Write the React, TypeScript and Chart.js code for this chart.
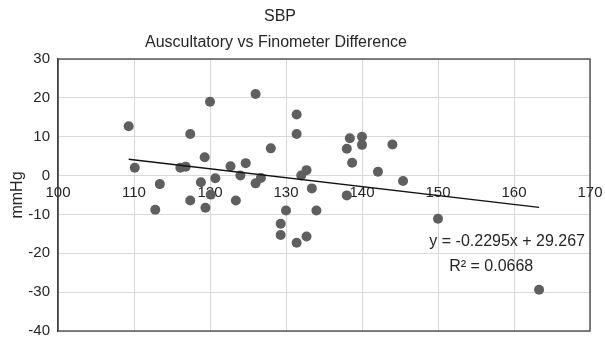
import React, { useEffect, useRef } from "react";
import { Chart, registerables } from "chart.js";

Chart.register(...registerables);

// Auscultatory SBP (x) vs difference (y), mmHg
const sbpX = [
  109.3, 110.1, 113.4, 112.8, 116.1, 116.8, 117.4, 117.4, 118.8, 119.3, 119.4,
  120.0, 120.1, 120.7, 122.7, 123.4, 124.0, 124.7, 126.0, 126.0, 126.7, 128.0,
  130.0, 129.3, 129.3, 131.4, 131.4, 131.4, 132.0, 132.7, 132.7, 133.4, 134.0,
  138.0, 138.4, 138.7, 138.0, 140.0, 140.0, 142.1, 144.0, 145.4, 150.0, 163.3,
];
const diffY = [
  12.7, 2.0, -2.2, -8.8, 2.0, 2.3, 10.7, -6.4, -1.7, 4.7, -8.3,
  19.0, -4.9, -0.7, 2.4, -6.4, 0.0, 3.2, 21.0, -2.0, -0.6, 7.0,
  -9.0, -12.4, -15.3, 15.7, 10.7, -17.3, 0.0, 1.4, -15.7, -3.3, -9.0,
  6.9, 9.6, 3.3, -5.1, 10.0, 7.9, 1.0, 8.0, -1.4, -11.1, -29.4,
];
const trendX = [109.3, 163.3];
const trendY = [4.2, -8.2];

const titleText = "SBP";
const subtitleText = "Auscultatory vs Finometer Difference";
const yAxisTitle = "mmHg";
const equationText = "y = -0.2295x + 29.267";
const r2Text = "R² = 0.0668";

const xTicks = { min: 100, max: 170, step: 10 };
const yTicks = { min: -40, max: 30, step: 10 };

const FONT = "'Liberation Sans', Arial, Helvetica, sans-serif";
const TEXT = "#262626";

const overlayPlugin = {
  id: "overlay",
  afterDraw(chart: any) {
    const { ctx, chartArea, scales } = chart;
    ctx.save();
    // plot frame
    ctx.strokeStyle = "#404040";
    ctx.lineWidth = 1.3;
    ctx.strokeRect(chartArea.left, chartArea.top, chartArea.right - chartArea.left, chartArea.bottom - chartArea.top);
    // titles
    ctx.fillStyle = TEXT;
    ctx.textAlign = "center";
    ctx.textBaseline = "middle";
    ctx.font = `16px ${FONT}`;
    ctx.fillText(titleText, 280, 17);
    ctx.fillText(subtitleText, 276, 43);
    // trendline equation
    const xs = scales.x;
    const ys = scales.y;
    ctx.fillText(equationText, xs.getPixelForValue(159.1), ys.getPixelForValue(-17.1));
    ctx.fillText(r2Text, xs.getPixelForValue(157.0), ys.getPixelForValue(-23.5));
    ctx.restore();
  },
};

export default function App() {
  const canvasRef = useRef<HTMLCanvasElement | null>(null);

  useEffect(() => {
    const canvas = canvasRef.current;
    if (!canvas) return;
    const points = sbpX.map((x, i) => ({ x, y: diffY[i] }));
    const trend = trendX.map((x, i) => ({ x, y: trendY[i] }));
    const chart = new Chart(canvas, {
      type: "scatter",
      data: {
        datasets: [
          {
            type: "line",
            label: "Trend",
            data: trend,
            borderColor: "#111111",
            borderWidth: 1.3,
            pointRadius: 0,
            fill: false,
          } as any,
          {
            label: "SBP",
            data: points,
            backgroundColor: "#5f5f5f",
            borderColor: "#5f5f5f",
            pointRadius: 5,
            borderWidth: 0,
          },
        ],
      },
      options: {
        animation: false,
        responsive: false,
        devicePixelRatio: 1,
        layout: { padding: { left: 0, right: 15, top: 59, bottom: 6 } },
        plugins: {
          legend: { display: false },
          tooltip: { enabled: false },
          title: { display: false },
        },
        scales: {
          x: {
            type: "linear",
            position: { y: 0 } as any,
            min: xTicks.min,
            max: xTicks.max,
            ticks: {
              stepSize: xTicks.step,
              color: TEXT,
              font: { family: FONT, size: 15 },
              padding: 8,
              maxRotation: 0,
            },
            grid: { color: "#d9d9d9", lineWidth: 1, drawTicks: false },
            border: { display: false },
            afterFit(scale: any) {
              scale.paddingLeft = 0;
              scale.paddingRight = 0;
              scale.paddingTop = 0;
              scale.paddingBottom = 0;
            },
          },
          y: {
            type: "linear",
            position: "left",
            min: yTicks.min,
            max: yTicks.max,
            ticks: {
              stepSize: yTicks.step,
              color: TEXT,
              font: { family: FONT, size: 15 },
              padding: 8,
            },
            grid: { color: "#d9d9d9", lineWidth: 1, drawTicks: false },
            border: { display: true, color: "#404040", width: 1.3 },
            title: {
              display: true,
              text: yAxisTitle,
              color: TEXT,
              font: { family: FONT, size: 16 },
              padding: { top: 8, bottom: 0 },
            },
            afterFit(scale: any) {
              scale.width = 58;
              scale.paddingLeft = 0;
              scale.paddingRight = 0;
              scale.paddingTop = 0;
              scale.paddingBottom = 0;
            },
          },
        },
      },
      plugins: [overlayPlugin],
    });
    return () => chart.destroy();
  }, []);

  return (
    <div style={{ position: "fixed", left: 0, top: 0, width: 605, height: 337, background: "#fff" }}>
      <canvas ref={canvasRef} width={605} height={337} style={{ width: 605, height: 337, display: "block" }} />
    </div>
  );
}
